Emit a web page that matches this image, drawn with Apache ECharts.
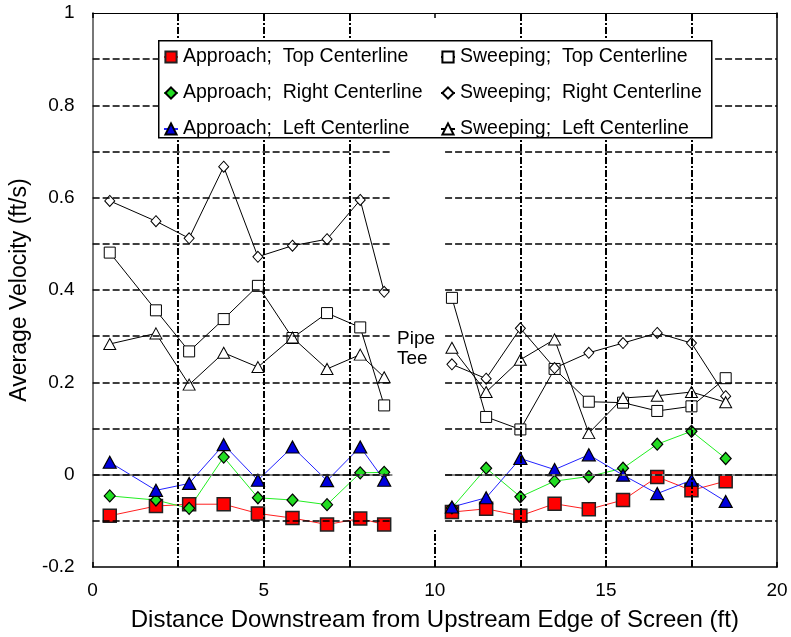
<!DOCTYPE html>
<html>
<head>
<meta charset="utf-8">
<script src="https://cdn.jsdelivr.net/npm/echarts@6/dist/echarts.min.js"></script>
<style>html,body{margin:0;padding:0;background:#fff}#c{width:791px;height:637px}</style>
</head>
<body>
<div id="c"></div>
<script>
// ---- data ----
const xLeft  = [0.5, 1.85, 2.82, 3.83, 4.83, 5.84, 6.85, 7.82, 8.52];
const xRight = [10.5, 11.5, 12.5, 13.5, 14.5, 15.5, 16.5, 17.5, 18.5];

const approachTopL   = [-0.089, -0.068, -0.064, -0.064, -0.084, -0.094, -0.108, -0.095, -0.108];
const approachTopR   = [-0.081, -0.074, -0.089, -0.063, -0.075, -0.055, -0.005, -0.034, -0.014];
const approachRightL = [-0.046, -0.055, -0.073, 0.038, -0.050, -0.055, -0.065, 0.004, 0.005];
const approachRightR = [-0.072, 0.014, -0.048, -0.014, -0.004, 0.014, 0.066, 0.094, 0.035];
const approachLeftL  = [0.027, -0.034, -0.019, 0.065, -0.012, 0.060, -0.013, 0.060, -0.012];
const approachLeftR  = [-0.070, -0.050, 0.035, 0.011, 0.043, -0.001, -0.041, -0.012, -0.058];

const sweepTopL   = [0.481, 0.356, 0.267, 0.337, 0.409, 0.296, 0.350, 0.319, 0.150];
const sweepTopR   = [0.383, 0.125, 0.098, 0.229, 0.158, 0.156, 0.138, 0.148, 0.209];
const sweepRightL = [0.593, 0.549, 0.512, 0.667, 0.472, 0.496, 0.510, 0.595, 0.396];
const sweepRightR = [0.239, 0.208, 0.317, 0.231, 0.264, 0.285, 0.307, 0.285, 0.170];
const sweepLeftL  = [0.283, 0.306, 0.195, 0.264, 0.233, 0.297, 0.229, 0.260, 0.211];
const sweepLeftR  = [0.275, 0.179, 0.249, 0.293, 0.090, 0.166, 0.171, 0.179, 0.157];

const xTicks = [0, 5, 10, 15, 20];
const yTicks = [-0.2, 0, 0.2, 0.4, 0.6, 0.8, 1];
const hGrid = [-0.1, 0, 0.1, 0.2, 0.3, 0.4, 0.5, 0.6, 0.7, 0.8, 0.9];
const vGrid = [2.5, 5, 7.5, 12.5, 15, 17.5];
const gapStart = 8.76, gapEnd = 10.3;
const vGapLine = 10, vGapTop = -0.117;

const names = {
  aT: 'Approach;  Top Centerline',
  aR: 'Approach;  Right Centerline',
  aL: 'Approach;  Left Centerline',
  sT: 'Sweeping;  Top Centerline',
  sR: 'Sweeping;  Right Centerline',
  sL: 'Sweeping;  Left Centerline'
};

// ---- build ----
const FONT = "'Liberation Sans', Arial, sans-serif";
function seg(yl, yr) {
  const d = xLeft.map((x, i) => [x, yl[i]]);
  d.push([xLeft[xLeft.length - 1], null]);
  xRight.forEach((x, i) => d.push([x, yr[i]]));
  return d;
}
function lineSeries(name, yl, yr, lineColor, symbol, size, fill, border, bw, z) {
  return {
    name, type: 'line', data: seg(yl, yr), connectNulls: false,
    symbol, symbolSize: size, showAllSymbol: true,
    lineStyle: { color: lineColor, width: 1 },
    itemStyle: { color: fill, borderColor: border, borderWidth: bw },
    emphasis: { disabled: true }, z: z, animation: false
  };
}

const dashH = { type: [7, 3], color: '#000', width: 1.5 };
const dashV = { type: [7, 2, 2, 2], color: '#000', width: 2 };
const markData = [];
hGrid.forEach(v => {
  if (v === 0) {
    [[0, gapStart], [gapEnd, 20]].forEach(([a, b]) =>
      markData.push([{ coord: [a, v], lineStyle: { type: 'solid', color: '#888', width: 2 } }, { coord: [b, v] }]));
  }
  [[0, gapStart], [gapEnd, 20]].forEach(([a, b]) =>
    markData.push([{ coord: [a, v], lineStyle: dashH }, { coord: [b, v] }]));
});
vGrid.forEach(v => markData.push([{ coord: [v, -0.2], lineStyle: dashV }, { coord: [v, 1] }]));
markData.push([{ coord: [vGapLine, -0.2], lineStyle: dashV }, { coord: [vGapLine, vGapTop] }]);

const chart = echarts.init(document.getElementById('c'), null, { renderer: 'canvas' });
chart.setOption({
  animation: false,
  backgroundColor: '#fff',
  textStyle: { fontFamily: FONT },
  grid: { left: 92, right: 14, top: 13, bottom: 69 },
  xAxis: [{
    type: 'value', min: 0, max: 20, interval: 5, position: 'bottom',
    name: 'Distance Downstream from Upstream Edge of Screen (ft)',
    nameLocation: 'middle', nameGap: 41,
    nameTextStyle: { fontSize: 24, color: '#000', fontFamily: FONT },
    axisLine: { show: true, onZero: false, lineStyle: { color: '#000', width: 1.5 } },
    axisTick: { show: true, inside: true, length: 5, lineStyle: { color: '#000', width: 1.5 } },
    minorTick: { show: true, splitNumber: 2, length: 5, lineStyle: { color: '#000', width: 1.5 } },
    axisLabel: { fontSize: 19, color: '#000', margin: 14, fontFamily: FONT,
      formatter: v => xTicks.includes(v) ? String(v) : '' },
    splitLine: { show: false }
  }, {
    type: 'value', min: 0, max: 20, interval: 5, position: 'top',
    axisLine: { show: true, onZero: false, lineStyle: { color: '#000', width: 1 } },
    axisTick: { show: true, inside: true, length: 5, lineStyle: { color: '#000', width: 1.5 } },
    minorTick: { show: true, splitNumber: 2, length: 5, lineStyle: { color: '#000', width: 1.5 } },
    axisLabel: { show: false }, splitLine: { show: false }
  }],
  yAxis: [{
    type: 'value', min: -0.2, max: 1, interval: 0.2, position: 'left',
    name: 'Average Velocity (ft/s)', nameLocation: 'middle', nameGap: 58,
    nameTextStyle: { fontSize: 23, color: '#000', fontFamily: FONT },
    axisLine: { show: true, onZero: false, lineStyle: { color: '#777', width: 2 } },
    axisTick: { show: false },
    axisLabel: { fontSize: 19, color: '#000', margin: 18, fontFamily: FONT,
      formatter: v => { const r = Math.round(v * 10) / 10; return yTicks.includes(r) ? String(r) : ''; } },
    splitLine: { show: false }
  }, {
    type: 'value', min: -0.2, max: 1, interval: 0.2, position: 'right',
    axisLine: { show: true, onZero: false, lineStyle: { color: '#000', width: 1.5 } },
    axisTick: { show: false }, axisLabel: { show: false }, splitLine: { show: false }
  }],
  legend: [{
    orient: 'vertical', left: 163, top: 47, itemWidth: 14, itemHeight: 14, itemGap: 16,
    textStyle: { fontSize: 19.5, color: '#000', fontFamily: FONT }, z: 20,
    selectedMode: false, padding: 0,
    data: [names.aT, names.aR, names.aL]
  }, {
    orient: 'vertical', left: 440, top: 47, itemWidth: 14, itemHeight: 14, itemGap: 16,
    textStyle: { fontSize: 19.5, color: '#000', fontFamily: FONT }, z: 20,
    selectedMode: false, padding: 0,
    data: [names.sT, names.sR, names.sL]
  }],
  graphic: {
    elements: [
      { type: 'rect', left: 158, top: 40, z: 10, shape: { width: 553, height: 97 },
        style: { fill: '#fff', stroke: '#000', lineWidth: 1.5 } },
      { type: 'text', left: 397, top: 329, z: 10,
        style: { text: 'Pipe\nTee', fontSize: 19, lineHeight: 20, fill: '#000', font: '19px ' + FONT } }
    ]
  },
  series: [
    { name: 'grid', type: 'line', data: [], silent: true,
      markLine: { silent: true, symbol: ['none', 'none'], label: { show: false },
        animation: false, data: markData }, z: 1 },
    lineSeries(names.sT, sweepTopL, sweepTopR, '#000', 'rect', 11, '#fff', '#000', 1, 3),
    lineSeries(names.sR, sweepRightL, sweepRightR, '#000', 'diamond', [10, 11], '#fff', '#000', 1, 3),
    lineSeries(names.sL, sweepLeftL, sweepLeftR, '#000', 'triangle', [12, 11], '#fff', '#000', 1, 3),
    lineSeries(names.aT, approachTopL, approachTopR, '#ff2020', 'rect', 13, '#ff0000', '#222', 1.5, 4),
    lineSeries(names.aR, approachRightL, approachRightR, '#22ee22', 'diamond', [11, 12], '#22dd22', '#000', 1.2, 4),
    lineSeries(names.aL, approachLeftL, approachLeftR, '#2222ff', 'triangle', [13, 12], '#0000dd', '#000', 1.2, 4)
  ]
});
</script>
</body>
</html>
